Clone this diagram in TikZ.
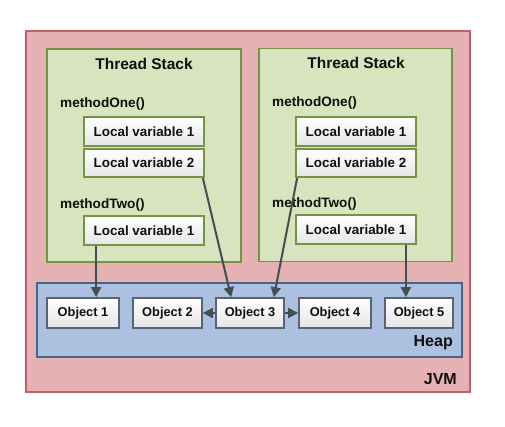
\documentclass[tikz,border=0pt]{standalone}
\usepackage{fontspec}
\setmainfont{Liberation Sans}
\usetikzlibrary{arrows.meta,shadings}
\definecolor{jvmfill}{RGB}{229,177,179}
\definecolor{jvmline}{RGB}{196,96,100}
\definecolor{stackfill}{RGB}{215,228,189}
\definecolor{stackline}{RGB}{118,146,68}
\definecolor{heapfill}{RGB}{172,193,223}
\definecolor{heapline}{RGB}{70,100,146}
\definecolor{objline}{RGB}{88,100,118}
\definecolor{arrowc}{RGB}{70,76,84}
\definecolor{txt}{RGB}{15,15,15}
\tikzset{
  jvmbox/.style={draw=jvmline, line width=2pt, fill=jvmfill, minimum width=444pt, minimum height=361pt, inner sep=0pt},
  stackbox/.style={draw=stackline, line width=1.8pt, fill=stackfill, minimum width=194pt, minimum height=213pt, inner sep=0pt},
  heapbox/.style={draw=heapline, line width=1.8pt, fill=heapfill, minimum width=425pt, minimum height=74pt, inner sep=0pt},
  varbox/.style={draw=stackline, line width=1.8pt, top color=white, bottom color=black!10, minimum width=120pt, minimum height=28.5pt, inner sep=0pt, font=\fontsize{13.4}{15}\selectfont\bfseries, text=txt},
  objbox/.style={draw=objline, line width=1.7pt, top color=white, bottom color=black!10, minimum height=30pt, inner sep=0pt, font=\fontsize{12.8}{15}\selectfont\bfseries, text=txt},
  titlelbl/.style={font=\fontsize{15.5}{18}\selectfont\bfseries, text=txt, inner sep=0pt},
  methlbl/.style={font=\fontsize{13.6}{16}\selectfont\bfseries, text=txt, inner sep=0pt, anchor=west},
  biglbl/.style={font=\fontsize{16}{18}\selectfont\bfseries, text=txt, inner sep=0pt, anchor=east},
  ptr/.style={draw=arrowc, line width=2pt, -{Triangle[width=10pt,length=10pt]}}
}
\begin{document}
\begin{tikzpicture}[x=1pt,y=-1pt]
\useasboundingbox (0,0) rectangle (505,427);
\node[jvmbox] (jvm) at (248,211.5) {};
\node[stackbox] (stackL) at (144,155.5) {};
\node[stackbox, minimum width=193pt] (stackR) at (355.5,155) {};
\node[heapbox] (heap) at (249.5,320) {};
% labels
\node[titlelbl] (tsL) at (144,64) {Thread Stack};
\node[titlelbl] (tsR) at (356,63) {Thread Stack};
\node[methlbl] (m1L) at (60,104) {methodOne()};
\node[methlbl] (m2L) at (60,205) {methodTwo()};
\node[methlbl] (m1R) at (272,103) {methodOne()};
\node[methlbl] (m2R) at (272,204) {methodTwo()};
\node[biglbl] (heaplbl) at (453,343) {Heap};
\node[biglbl] (jvmlbl) at (457,379) {JVM};
% variables
\node[varbox] (lvL1) at (144,131.5) {Local variable 1};
\node[varbox] (lvL2) at (144,163) {Local variable 2};
\node[varbox] (lvL3) at (144,230.5) {Local variable 1};
\node[varbox] (lvR1) at (356,131.5) {Local variable 1};
\node[varbox] (lvR2) at (356,163) {Local variable 2};
\node[varbox] (lvR3) at (356,229.5) {Local variable 1};
% objects
\node[objbox, minimum width=72pt] (obj1) at (83,313) {Object 1};
\node[objbox, minimum width=69pt] (obj2) at (167.5,313) {Object 2};
\node[objbox, minimum width=68pt] (obj3) at (250,313) {Object 3};
\node[objbox, minimum width=72pt] (obj4) at (335,313) {Object 4};
\node[objbox, minimum width=68pt] (obj5) at (419,313) {Object 5};
% pointers
\draw[ptr] ([xshift=13pt]lvL3.south west) -- ([xshift=13pt]lvL3.south west |- obj1.north);
\draw[ptr] ([xshift=-2pt]lvL2.south east) -- ([xshift=16pt]obj3.north west);
\draw[ptr] ([xshift=2pt]lvR2.south west) -- ([xshift=-11pt]obj3.north east);
\draw[ptr] ([xshift=-11pt]lvR3.south east) -- ([xshift=-11pt]lvR3.south east |- obj5.north);
\draw[ptr] (obj3.west) -- (obj2.east);
\draw[ptr] (obj3.east) -- (obj4.west);
\end{tikzpicture}
\end{document}
